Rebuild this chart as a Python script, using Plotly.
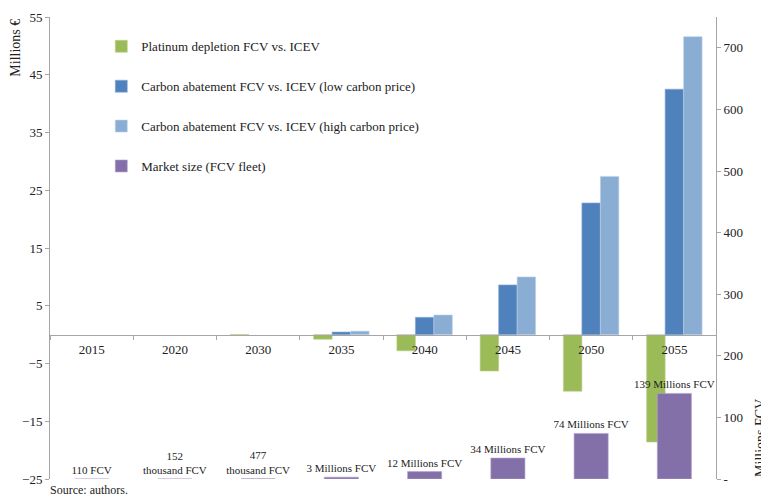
import plotly.graph_objects as go

years = ["2015", "2020", "2030", "2035", "2040", "2045", "2050", "2055"]
platinum = [None, None, -0.1, -0.8, -2.8, -6.3, -9.8, -18.6]
carbon_low = [None, None, None, 0.45, 3.0, 8.6, 22.8, 42.5]
carbon_high = [None, None, None, 0.6, 3.4, 10.0, 27.4, 51.6]
market_size = [0.00011, 0.152, 0.477, 3, 12, 34, 74, 139]  # millions of FCV
market_labels = ["110 FCV", "152<br>thousand FCV", "477<br>thousand FCV",
                 "3 Millions FCV", "12 Millions FCV", "34 Millions FCV",
                 "74 Millions FCV", "139 Millions FCV"]

left_ticks = [-25, -15, -5, 5, 15, 25, 35, 45, 55]
right_ticks = [0, 100, 200, 300, 400, 500, 600, 700]
right_ticktext = ["-", "100", "200", "300", "400", "500", "600", "700"]

FONT = "Liberation Serif, Times New Roman, serif"
AXIS_GREY = "#a6a6a6"
W = 0.222

fig = go.Figure()

fig.add_trace(go.Bar(
    x=years, y=platinum, name="Platinum depletion FCV vs. ICEV",
    marker=dict(color="#9BBB59", line=dict(color="#b8d08a", width=0.6)),
    width=W, offset=-1.5 * W, legendgroup="a",
))
fig.add_trace(go.Bar(
    x=years, y=carbon_low, name="Carbon abatement FCV vs. ICEV (low carbon price)",
    marker=dict(color="#4F81BD", line=dict(color="#8aaad6", width=0.6)),
    width=W, offset=-0.5 * W, legendgroup="b",
))
fig.add_trace(go.Bar(
    x=years, y=carbon_high, name="Carbon abatement FCV vs. ICEV (high carbon price)",
    marker=dict(color="#8AADD4", line=dict(color="#c0d3ea", width=0.6)),
    width=W, offset=0.5 * W, legendgroup="c",
))
fig.add_trace(go.Bar(
    x=years, y=market_size, name="Market size (FCV fleet)", yaxis="y2",
    marker=dict(color="#8470A9", line=dict(color="#b3a3cc", width=0.6)),
    width=0.41, offset=-0.205, legendgroup="d",
    text=market_labels, textposition="outside", cliponaxis=False,
    constraintext="none",
    textfont=dict(family=FONT, size=11, color="#222"),
))

zero_pos = 25 / 80

# page body has an 8px margin, so the figure is sized/margined to compensate
fig.update_layout(
    width=761, height=490,
    margin=dict(l=42, r=53, t=9, b=19, autoexpand=False),
    paper_bgcolor="white", plot_bgcolor="white",
    barmode="overlay",
    font=dict(family=FONT, size=13, color="#222"),
    showlegend=True,
    legend=dict(
        x=0.077, y=0.969, xanchor="left", yanchor="top",
        bgcolor="rgba(0,0,0,0)", traceorder="grouped",
        tracegroupgap=20, font=dict(family=FONT, size=13, color="#222"),
        itemwidth=30,
    ),
    xaxis=dict(
        type="category", anchor="free", position=zero_pos, automargin=False,
        showline=True, linecolor=AXIS_GREY, linewidth=1,
        ticks="outside", ticklen=4, tickcolor=AXIS_GREY, tickson="boundaries",
        ticklabelstandoff=3,
        showgrid=False, tickfont=dict(family=FONT, size=13),
    ),
    yaxis=dict(
        range=[-25, 55], tickvals=left_ticks, showgrid=False, zeroline=False,
        automargin=False,
        showline=True, linecolor=AXIS_GREY, linewidth=1,
        ticks="outside", ticklen=4, tickcolor=AXIS_GREY,
        tickfont=dict(family=FONT, size=13),
    ),
    yaxis2=dict(
        range=[0, 750], overlaying="y", side="right", automargin=False,
        tickvals=right_ticks, ticktext=right_ticktext,
        showgrid=False, zeroline=False,
        showline=True, linecolor=AXIS_GREY, linewidth=1,
        ticks="outside", ticklen=4, tickcolor=AXIS_GREY,
        tickfont=dict(family=FONT, size=13),
    ),
    annotations=[
        dict(text="Millions €", xref="paper", yref="paper", x=-0.053, y=1.0,
             xanchor="center", yanchor="top", textangle=-90, showarrow=False,
             font=dict(family=FONT, size=14)),
        dict(text="Millions FCV", xref="paper", yref="paper", x=1.066, y=0.0,
             xanchor="center", yanchor="bottom", textangle=-90, showarrow=False,
             font=dict(family=FONT, size=14)),
        dict(text="Source: authors.", xref="paper", yref="paper", x=-0.003, y=-0.005,
             xanchor="left", yanchor="top", showarrow=False,
             font=dict(family=FONT, size=12)),
    ],
)

fig.write_html("out.html")
